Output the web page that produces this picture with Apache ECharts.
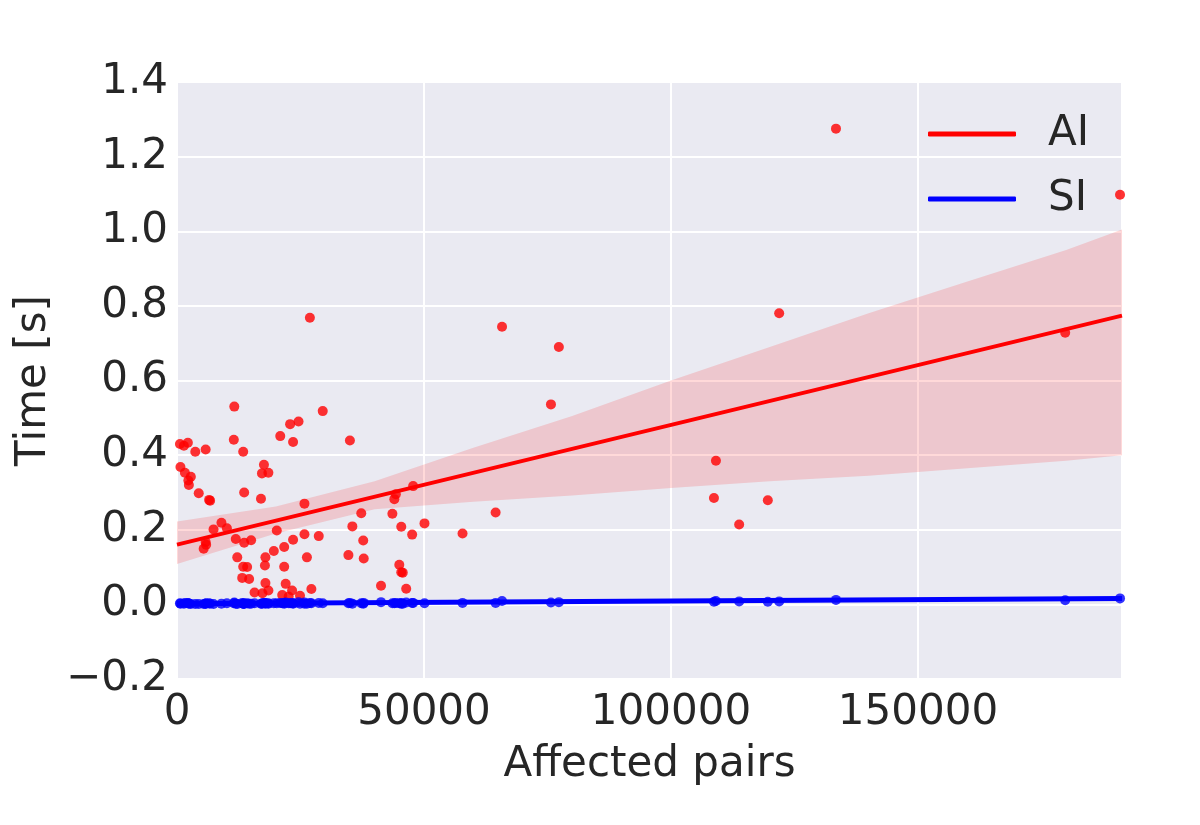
<!DOCTYPE html>
<html>
<head>
<meta charset="utf-8">
<title>Time vs affected pairs</title>
<script src="https://cdn.jsdelivr.net/npm/echarts@6/dist/echarts.min.js"></script>
<style>
    html, body {margin: 0; padding: 0; background: #fff;}
    #chart {width: 1200px; height: 825px;}
</style>
</head>
<body>
<div id="chart"></div>
<script>
// 每个测量点的 affected pairs 数 (AI / SI 共用同一组 x)
var pairs = [
    600, 1400, 2200, 3700, 5800, 11500, 13400, 20900, 22900, 24600,
    23500, 35000, 11600, 29500, 26900, 700, 1600, 2800, 2300, 2400,
    4400, 6500, 6700, 17600, 17200, 18500, 13600, 17000, 25800, 44000,
    44300, 47800, 9000, 7400, 10100, 5800, 5400, 5900, 11900, 13600,
    15000, 20200, 25800, 28700, 23500, 21700, 19600, 12200, 17900, 17800,
    21700, 13400, 14200, 26300, 34700, 37800, 37700, 37300, 35500, 13200,
    14600, 15700, 17900, 18500, 17300, 22000, 21300, 23300, 24900, 22600,
    27200, 41300, 45000, 45400, 45700, 46400, 43600, 45400, 47600, 50100,
    57800, 64500, 65800, 75700, 77300, 108700, 109100, 113800, 119600, 121900,
    133400, 179800, 190900
];
// AI 耗时 [s]
var aiTime = [
    0.430, 0.425, 0.433, 0.409, 0.415, 0.441, 0.409, 0.451, 0.483, 0.490,
    0.435, 0.439, 0.530, 0.518, 0.768, 0.368, 0.353, 0.342, 0.332, 0.320,
    0.298, 0.280, 0.278, 0.374, 0.351, 0.353, 0.300, 0.283, 0.270, 0.282,
    0.295, 0.317, 0.219, 0.201, 0.204, 0.167, 0.149, 0.160, 0.175, 0.165,
    0.172, 0.198, 0.188, 0.183, 0.173, 0.154, 0.143, 0.126, 0.126, 0.104,
    0.101, 0.101, 0.100, 0.126, 0.132, 0.123, 0.171, 0.244, 0.209, 0.071,
    0.068, 0.032, 0.057, 0.037, 0.030, 0.055, 0.025, 0.037, 0.023, 0.021,
    0.041, 0.050, 0.106, 0.086, 0.085, 0.042, 0.243, 0.208, 0.187, 0.217,
    0.190, 0.246, 0.744, 0.536, 0.690, 0.285, 0.385, 0.214, 0.279, 0.780,
    1.275, 0.728, 1.098
];
// SI 耗时 [s]
var siTime = [
    0.003, 0.002, 0.004, 0.001, 0.002, 0.003, 0.002, 0.004, 0.003, 0.006,
    0.002, 0.004, 0.005, 0.003, 0.004, 0.002, 0.004, 0.001, 0.003, 0.002,
    0.001, 0.003, 0.002, 0.004, 0.002, 0.003, 0.001, 0.002, 0.005, 0.003,
    0.004, 0.004, 0.002, 0.001, 0.003, 0.002, 0.001, 0.003, 0.002, 0.003,
    0.002, 0.003, 0.002, 0.004, 0.003, 0.002, 0.003, 0.001, 0.002, 0.003,
    0.004, 0.002, 0.003, 0.002, 0.003, 0.004, 0.002, 0.003, 0.002, 0.004,
    0.002, 0.003, 0.004, 0.002, 0.003, 0.005, 0.003, 0.004, 0.002, 0.003,
    0.003, 0.006, 0.003, 0.004, 0.002, 0.005, 0.003, 0.002, 0.004, 0.003,
    0.004, 0.004, 0.009, 0.005, 0.006, 0.007, 0.009, 0.008, 0.007, 0.008,
    0.012, 0.011, 0.016
];

// 回归线 (两端)
var fitX = [0, 191300];
var aiFit = [0.160, 0.774];
var siFit = [0.002, 0.016];

// AI 回归的置信区间
var ciX = [0, 20000, 40000, 60000, 80000, 100000, 120000, 140000, 160000, 180000, 191300];
var aiUpper = [0.222, 0.262, 0.330, 0.420, 0.505, 0.600, 0.690, 0.780, 0.865, 0.950, 1.005];
var aiLower = [0.108, 0.190, 0.255, 0.275, 0.292, 0.312, 0.330, 0.345, 0.365, 0.385, 0.400];

// 刻度范围
var xMax = 191300;
var yMin = -0.2, yMax = 1.4;

var textColor = '#262626';
var fontFamily = 'DejaVu Sans';
var fontSize = 42;

function zip(xs, ys) {
    return xs.map(function (x, i) { return [x, ys[i]]; });
}

/**
 * 置信区间多边形: 上边界从左到右, 下边界从右到左, 全部经坐标系换算
 */
function renderBand(params, api) {
    var pts = [];
    for (var i = 0; i < ciX.length; i++) {
        pts.push(api.coord([ciX[i], aiUpper[i]]));
    }
    for (var j = ciX.length - 1; j >= 0; j--) {
        pts.push(api.coord([ciX[j], aiLower[j]]));
    }
    return {
        type: 'polygon',
        shape: {points: pts},
        style: {fill: 'rgba(255,0,0,0.15)'}
    };
}

var chart = echarts.init(document.getElementById('chart'), null, {renderer: 'canvas'});

var option = {
    animation: false,
    backgroundColor: '#ffffff',
    textStyle: {fontFamily: fontFamily, color: textColor},
    grid: {
        left: 177, right: 78, top: 82, bottom: 146,
        show: true,
        backgroundColor: '#eaeaf2',
        borderWidth: 0
    },
    legend: {
        data: ['AI', 'SI'],
        orient: 'vertical',
        left: 928,
        top: 113,
        padding: 0,
        itemWidth: 88,
        itemHeight: 5,
        itemGap: 23,
        icon: 'roundRect',
        textStyle: {
            fontSize: fontSize,
            color: textColor,
            fontFamily: fontFamily,
            padding: [0, 0, 0, 27]
        }
    },
    xAxis: {
        type: 'value',
        min: 0,
        max: xMax,
        interval: 50000,
        name: 'Affected pairs',
        nameLocation: 'middle',
        nameGap: 65,
        nameTextStyle: {fontSize: fontSize, color: textColor, fontFamily: fontFamily},
        axisLine: {show: false},
        axisTick: {show: false},
        axisLabel: {
            fontSize: fontSize, color: textColor, margin: 13,
            showMaxLabel: false,
            formatter: function (v) { return String(v); }
        },
        splitLine: {show: true, lineStyle: {color: '#ffffff', width: 2}}
    },
    yAxis: {
        type: 'value',
        min: yMin,
        max: yMax,
        interval: 0.2,
        name: 'Time [s]',
        nameLocation: 'middle',
        nameGap: 116,
        nameTextStyle: {fontSize: fontSize, color: textColor, fontFamily: fontFamily},
        axisLine: {show: false},
        axisTick: {show: false},
        axisLabel: {
            fontSize: fontSize, color: textColor, margin: 9,
            formatter: function (v) { return v.toFixed(1).replace('-', '\u2212'); }
        },
        splitLine: {show: true, lineStyle: {color: '#ffffff', width: 2}}
    },
    series: [
        {
            name: 'AI points',
            type: 'scatter',
            symbolSize: 10,
            itemStyle: {color: '#ff0000', opacity: 0.8},
            data: zip(pairs, aiTime)
        },
        {
            name: 'AI ci',
            type: 'custom',
            renderItem: renderBand,
            silent: true,
            data: [[0, 0]]
        },
        {
            name: 'AI',
            type: 'line',
            showSymbol: false,
            itemStyle: {color: '#ff0000'},
            lineStyle: {color: '#ff0000', width: 4},
            data: zip(fitX, aiFit)
        },
        {
            name: 'SI points',
            type: 'scatter',
            symbolSize: 10,
            itemStyle: {color: '#0000ff', opacity: 0.8},
            data: zip(pairs, siTime)
        },
        {
            name: 'SI',
            type: 'line',
            showSymbol: false,
            itemStyle: {color: '#0000ff'},
            lineStyle: {color: '#0000ff', width: 5},
            data: zip(fitX, siFit)
        }
    ]
};

chart.setOption(option);
</script>
</body>
</html>
